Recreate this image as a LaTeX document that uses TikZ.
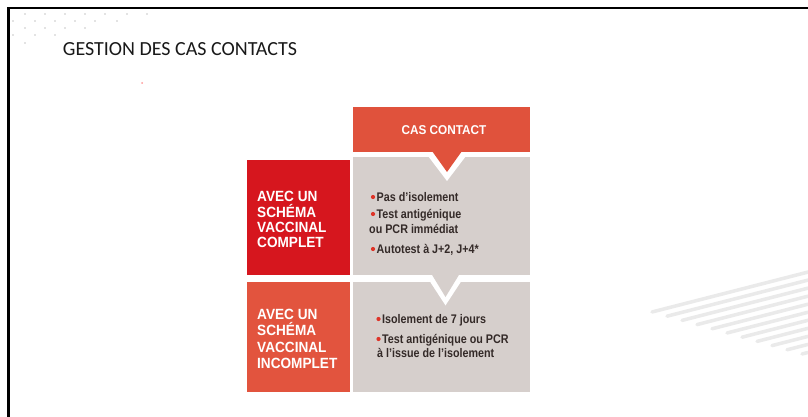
\documentclass[tikz,border=0pt]{standalone}
\usepackage{fontspec}
\setmainfont{Liberation Sans}
\newfontfamily\titlefont{Carlito}
\newfontfamily\condL[FakeStretch=0.92]{Liberation Sans}
\newfontfamily\condR[FakeStretch=0.86]{Liberation Sans}
\definecolor{hdrorange}{RGB}{224,82,60}
\definecolor{rowred}{RGB}{214,22,30}
\definecolor{roworange}{RGB}{226,84,62}
\definecolor{boxgray}{RGB}{214,207,204}
\definecolor{txtdark}{RGB}{52,42,40}
\definecolor{bulred}{RGB}{222,52,40}
\definecolor{dotgray}{RGB}{200,200,200}
\definecolor{stripegray}{RGB}{234,234,234}
\begin{document}
\begin{tikzpicture}[x=1pt,y=-1pt,
  lefttxt/.style={anchor=base west,inner sep=0pt,text=white,font=\condL\bfseries\fontsize{14.8}{16}\selectfont},
  righttxt/.style={anchor=base west,inner sep=0pt,text=txtdark,font=\condR\bfseries\fontsize{12.5}{14}\selectfont},
  bullet/.style={fill=bulred,radius=2.1},
  stripe/.style={draw=stripegray,line width=3.5pt,line cap=round},
  bgdot/.style={fill=dotgray,radius=0.8}]
\useasboundingbox (0,0) rectangle (808,417);
\fill[white] (0,0) rectangle (808,417);
% frame
\draw[black,line width=2.5pt] (8.5,417) -- (8.5,7.8) -- (808,7.8);
% dots
\foreach \px/\py in {25/14,45/14,65/14,85/14,105/14,127/14,147/14,
  13/21,35/21,55/21,75/21,95/21,117/21,
  25/28,45/28,65/28,85/28,
  13/35,35/35,55/35,
  25/43}
  \fill[bgdot] (\px,\py) circle;
\fill[red!40] (142,83) circle (1);
% stripes
\foreach \k in {0,...,10} {
  \pgfmathsetmacro\xs{652+15*\k}
  \pgfmathsetmacro\ys{312+4.2*\k}
  \pgfmathsetmacro\ye{\ys-0.256*(808-\xs)}
  \draw[stripe] (\xs,\ys) -- (808,\ye);
}
% title
\node[anchor=base west,inner sep=0pt,font=\titlefont\fontsize{20}{24}\selectfont,text=black!90] (title) at (62.7,56) {GESTION DES CAS CONTACTS};
% row boxes
\fill[rowred] (247,160) rectangle (350,275);
\fill[roworange] (247,282) rectangle (350,392);
\fill[boxgray] (353,282) rectangle (530,392);
\fill[white] (425.7,275) -- (445.5,305.4) -- (465.3,275) -- cycle;
\fill[boxgray] (353,157) rectangle (530,275);
\fill[boxgray] (431.5,274) -- (445.5,297) -- (459.5,274) -- cycle;
% header
\fill[white] (425,152) -- (447,181) -- (469,152) -- cycle;
\fill[hdrorange] (353,107) rectangle (530,152);
\fill[hdrorange] (432,151) -- (447,172) -- (462,151) -- cycle;
\node[anchor=base,inner sep=0pt,text=white,font=\condL\bfseries\fontsize{12.8}{14}\selectfont] (hdr) at (444,135) {CAS CONTACT};
% left labels row 1
\node[lefttxt] (l1a) at (257,201) {AVEC UN};
\node[lefttxt] (l1b) at (257,217) {SCHÉMA};
\node[lefttxt] (l1c) at (257,232) {VACCINAL};
\node[lefttxt] (l1d) at (257,247) {COMPLET};
% left labels row 2
\node[lefttxt] (l2a) at (257,319) {AVEC UN};
\node[lefttxt] (l2b) at (257,335) {SCHÉMA};
\node[lefttxt] (l2c) at (257,352) {VACCINAL};
\node[lefttxt] (l2d) at (257,368) {INCOMPLET};
% right text row 1
\fill[bullet] (373,197) circle;
\node[righttxt] (r1a) at (376.5,201) {Pas d’isolement};
\fill[bullet] (373,214) circle;
\node[righttxt] (r1b) at (376.5,218) {Test antigénique};
\node[righttxt] (r1c) at (369,233) {ou PCR immédiat};
\fill[bullet] (373,249) circle;
\node[righttxt] (r1d) at (376.5,253) {Autotest à J+2, J+4*};
% right text row 2
\fill[bullet] (378.5,319) circle;
\node[righttxt] (r2a) at (382,323) {Isolement de 7 jours};
\fill[bullet] (378.5,339) circle;
\node[righttxt] (r2b) at (382,343) {Test antigénique ou PCR};
\node[righttxt] (r2c) at (377,357) {à l’issue de l’isolement};
\end{tikzpicture}
\end{document}
